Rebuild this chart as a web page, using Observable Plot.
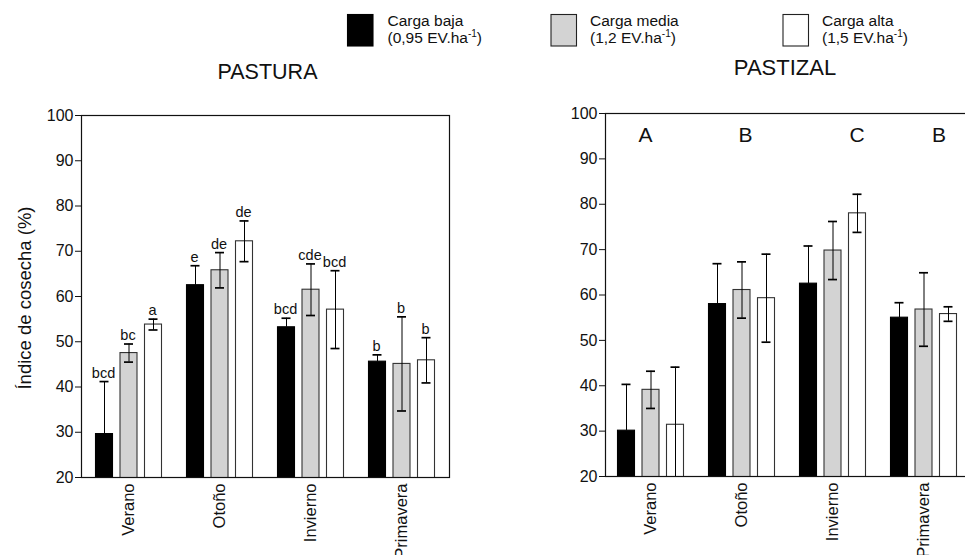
<!DOCTYPE html>
<html>
<head>
<meta charset="utf-8">
<script src="https://cdn.jsdelivr.net/npm/d3@7"></script>
<script src="https://cdn.jsdelivr.net/npm/@observablehq/plot@0.6"></script>
<style>
html, body { margin: 0; padding: 0; overflow: hidden; background: #fff; }
#wrap { position: relative; width: 965px; height: 555px; overflow: hidden; }
#wrap > svg, #wrap > figure { position: absolute; margin: 0; }
</style>
</head>
<body>
<div id="wrap"></div>
<script>
// ---------- data ----------
const seasons = ["Verano", "Otoño", "Invierno", "Primavera"];
const cargas = ["Carga baja", "Carga media", "Carga alta"];
const cargaRates = ["(0,95 EV.ha", "(1,2 EV.ha", "(1,5 EV.ha"];
const cargaColors = ["#000000", "#d3d3d3", "#ffffff"];
const yTicks = [20, 30, 40, 50, 60, 70, 80, 90, 100];
const yLabel = "Índice de cosecha (%)";
const titles = ["PASTURA", "PASTIZAL"];

// PASTURA (left panel)
const pasturaBaja = [29.6, 62.5, 53.2, 45.6];
const pasturaBajaErr = [11.6, 4.3, 2.0, 1.5];
const pasturaMedia = [47.5, 65.8, 61.5, 45.1];
const pasturaMediaErr = [2.0, 3.9, 5.7, 10.4];
const pasturaAlta = [53.8, 72.2, 57.1, 45.9];
const pasturaAltaErr = [1.2, 4.5, 8.6, 5.0];
const pasturaLetrasBaja = ["bcd", "e", "bcd", "b"];
const pasturaLetrasMedia = ["bc", "de", "cde", "b"];
const pasturaLetrasAlta = ["a", "de", "bcd", "b"];

// PASTIZAL (right panel)
const pastizalBaja = [30.1, 58.0, 62.5, 55.0];
const pastizalBajaErr = [10.2, 8.9, 8.3, 3.3];
const pastizalMedia = [39.1, 61.1, 69.8, 56.8];
const pastizalMediaErr = [4.1, 6.2, 6.4, 8.1];
const pastizalAlta = [31.4, 59.3, 78.0, 55.8];
const pastizalAltaErr = [12.7, 9.7, 4.2, 1.6];
const pastizalLetras = ["A", "B", "C", "B"];

// ---------- build rows ----------
function rowsFrom(values, errs, letters) {
  const out = [];
  cargas.forEach((c, i) => {
    seasons.forEach((s, j) => {
      out.push({season: s, carga: c, value: values[i][j], err: errs[i][j], letter: letters ? letters[i][j] : ""});
    });
  });
  return out;
}
const pasturaRows = rowsFrom(
  [pasturaBaja, pasturaMedia, pasturaAlta],
  [pasturaBajaErr, pasturaMediaErr, pasturaAltaErr],
  [pasturaLetrasBaja, pasturaLetrasMedia, pasturaLetrasAlta]
);
const pastizalRows = rowsFrom(
  [pastizalBaja, pastizalMedia, pastizalAlta],
  [pastizalBajaErr, pastizalMediaErr, pastizalAltaErr],
  null
);
const pastizalLetterRows = seasons.map((s, j) => ({season: s, letter: pastizalLetras[j]}));

// ---------- styling ----------
const FONT = "'Liberation Sans', Arial, Helvetica, sans-serif";
const BAR_STEP = 24.5;
const INK = "#111";

function panelMarks(rows, withLetters) {
  const marks = [];
  cargas.forEach((c, i) => {
    const d = rows.filter(r => r.carga === c);
    const dx = (i - 1) * BAR_STEP;
    marks.push(Plot.barY(d, {x: "season", y: "value", fill: cargaColors[i], stroke: i === 0 ? "#000" : "#333", strokeWidth: 1.1, dx, clip: true}));
    marks.push(Plot.ruleX(d, {x: "season", y1: r => (i === 0 ? r.value : r.value - r.err), y2: r => r.value + r.err, stroke: "#000", strokeWidth: 1, dx, clip: true}));
    marks.push(Plot.tickY(d, {x: "season", y: r => r.value + r.err, stroke: "#000", strokeWidth: 1.7, dx, insetLeft: 4, insetRight: 4}));
    if (i > 0) {
      marks.push(Plot.tickY(d.filter(r => r.value - r.err >= 20), {x: "season", y: r => r.value - r.err, stroke: "#000", strokeWidth: 1.7, dx, insetLeft: 4, insetRight: 4}));
    }
    if (withLetters) {
      marks.push(Plot.text(d, {x: "season", y: r => r.value + r.err, text: "letter", dx: dx - 1, dy: -4, lineAnchor: "bottom", fontSize: 14.5, fill: INK}));
    }
  });
  return marks;
}

function commonAxes() {
  return [
    Plot.axisY(yTicks, {tickSize: 6, tickPadding: 2, label: null, fontSize: 16, stroke: INK}),
    Plot.axisX({tickRotate: -90, tickSize: 0, tickPadding: 6, label: null, fontSize: 16.5}),
    Plot.frame({stroke: INK, strokeWidth: 1.2})
  ];
}

const wrap = document.getElementById("wrap");

// Left panel: PASTURA
const left = Plot.plot({
  width: 465, height: 555,
  marginLeft: 81, marginRight: 16, marginTop: 115, marginBottom: 78,
  style: {fontFamily: FONT, fontSize: "16px", color: INK, background: "transparent", overflow: "visible"},
  x: {domain: seasons, paddingInner: 0.817, paddingOuter: 0.424},
  y: {domain: [20, 100]},
  marks: [...panelMarks(pasturaRows, true), ...commonAxes()]
});
left.style.left = "0px";
left.style.top = "0px";
wrap.appendChild(left);

// Right panel: PASTIZAL
const letterDx = [-5.5, 3.5, 24, 15];
const right = Plot.plot({
  width: 429, height: 555,
  marginLeft: 65, marginRight: 0, marginTop: 113, marginBottom: 79,
  style: {fontFamily: FONT, fontSize: "16px", color: INK, background: "transparent", overflow: "visible"},
  x: {domain: seasons, paddingInner: 0.817, paddingOuter: 0.40},
  y: {domain: [20, 100]},
  marks: [
    ...panelMarks(pastizalRows, false),
    ...seasons.map((s, j) => Plot.text(pastizalLetterRows.filter(r => r.season === s), {
      x: "season", text: "letter", frameAnchor: "top", lineAnchor: "top", dy: 13.5, dx: letterDx[j], fontSize: 21, fill: INK
    })),
    ...commonAxes()
  ]
});
right.style.left = "540px";
right.style.top = "0px";
wrap.appendChild(right);

// Overlay: legend, titles, y label
const svg = d3.create("svg")
  .attr("width", 965).attr("height", 555)
  .style("left", "0px").style("top", "0px")
  .style("font-family", FONT).style("pointer-events", "none");

const boxX = [347.5, 551, 783];
const textX = [387.5, 590, 822];
cargas.forEach((c, i) => {
  svg.append("rect")
    .attr("x", boxX[i]).attr("y", 14.5).attr("width", 25.5).attr("height", 31.5)
    .attr("fill", cargaColors[i]).attr("stroke", i === 0 ? "#000" : "#222").attr("stroke-width", 1.1);
  svg.append("text").attr("x", textX[i]).attr("y", 26.3)
    .attr("font-size", 15.5).attr("fill", INK).text(c);
  const t = svg.append("text").attr("x", textX[i]).attr("y", 42.8).attr("font-size", 15.5).attr("fill", INK);
  t.append("tspan").text(cargaRates[i]);
  t.append("tspan").attr("dy", -6).attr("font-size", 10).text("-1");
  t.append("tspan").attr("dy", 6).text(")");
});

svg.append("text").attr("x", 267.5).attr("y", 79).attr("text-anchor", "middle")
  .attr("font-size", 21.5).attr("fill", INK).text(titles[0]);
svg.append("text").attr("x", 785).attr("y", 75).attr("text-anchor", "middle")
  .attr("font-size", 22).attr("fill", INK).text(titles[1]);

svg.append("text")
  .attr("transform", "translate(24,298) rotate(-90)")
  .attr("text-anchor", "middle").attr("dominant-baseline", "central")
  .attr("font-size", 18.5).attr("fill", INK).text(yLabel);

wrap.appendChild(svg.node());
</script>
</body>
</html>
